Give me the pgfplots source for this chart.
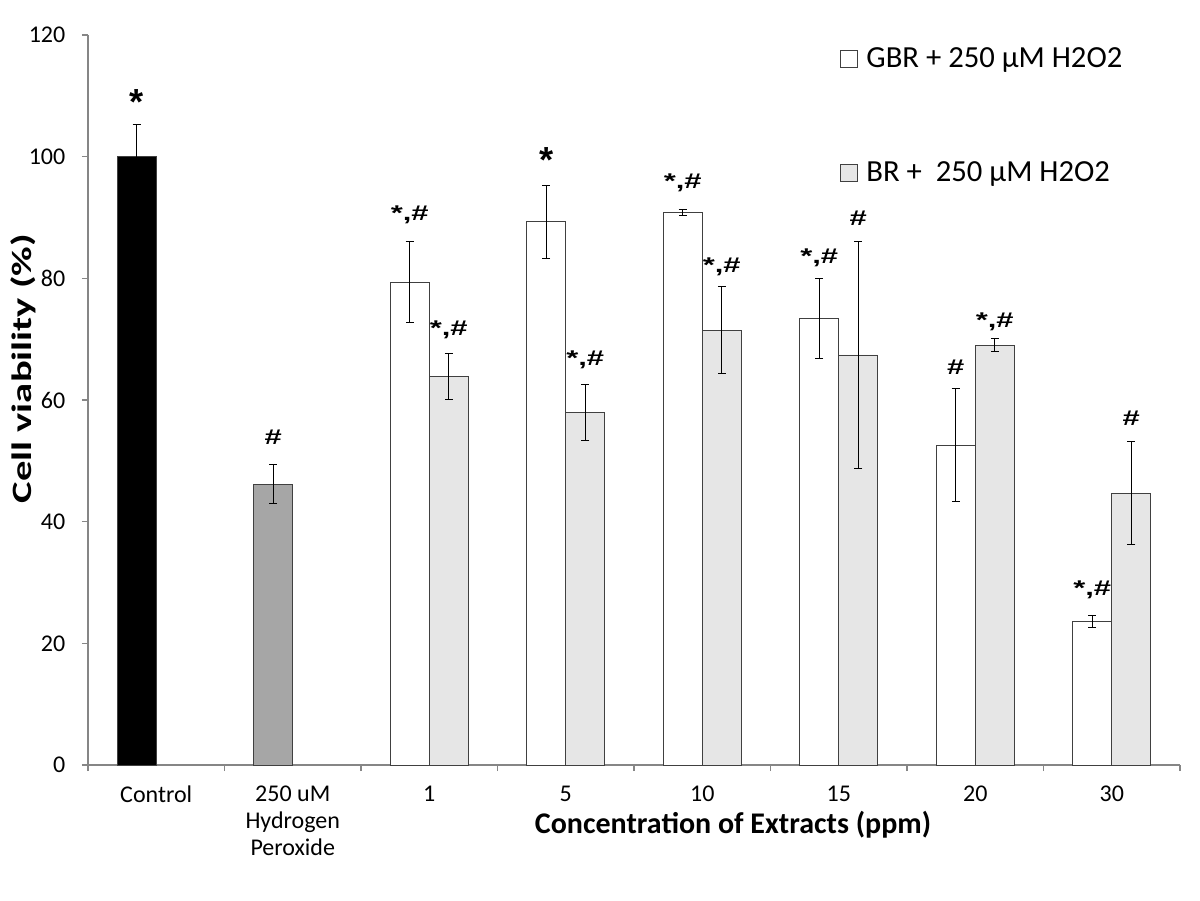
\documentclass[border=0pt]{standalone}
\usepackage{fontspec}
\setmainfont{Carlito}
\newfontfamily\arial{Liberation Sans}
\usepackage{graphicx}
\usepackage{pgfplots}
\pgfplotsset{compat=1.18}
\definecolor{axgray}{HTML}{868686}
\definecolor{edge}{HTML}{404040}
\definecolor{hgray}{HTML}{A6A6A6}
\definecolor{brfill}{HTML}{E6E6E6}
\newcommand{\SH}{\scalebox{1.45}[1]{*,\#}}
\newcommand{\HS}{\scalebox{1.45}[1]{\#}}
\newcommand{\ST}{\scalebox{1.7}{*}}
\pgfplotsset{sq/.style={legend image code/.code={\draw[##1] (0pt,-6.4pt) rectangle (12.8pt,6.4pt);}}}
\begin{document}
\begin{tikzpicture}
\begin{axis}[
  at={(0,0)}, anchor=south west,
  scale only axis, width=819pt, height=547.5pt,
  xmin=-0.5, xmax=7.5, ymin=0, ymax=120,
  axis x line=bottom, axis y line=left,
  axis line style={axgray, -, line width=0.8pt},
  ytick={0,20,...,120},
  xtick={0,...,7},
  xticklabels={Control, {250 uM\\Hydrogen\\Peroxide}, 1, 5, 10, 15, 20, 30},
  xticklabel style={align=center, font=\fontsize{18}{20.5}\selectfont, yshift=-7.5pt},
  yticklabel style={font=\fontsize{18}{20.5}\selectfont, xshift=-9pt},
  /pgf/number format/assume math mode=true,
  major x tick style={draw=none},
  minor xtick={-0.5,0.5,...,7.5},
  minor x tick style={axgray, line width=0.8pt},
  major y tick style={axgray, line width=0.8pt},
  major tick length=4.5pt, minor tick length=4.5pt,
  tick align=outside,
  xtick pos=bottom, ytick pos=left,
  ylabel={\scalebox{1.45}[1]{Cell viability (\%)}},
  ylabel style={font=\fontsize{21}{24}\selectfont\bfseries, at={(axis description cs:-0.0595,0.543)}, anchor=center},
  xlabel={Concentration of Extracts (ppm)},
  xlabel style={font=\fontsize{22.5}{26}\selectfont\bfseries, at={(axis description cs:0.5907,-0.0822)}, anchor=center},
  legend style={draw=none, fill=none, at={(rel axis cs:0.6843,0.99)}, anchor=north west,
    font=\fontsize{23}{27}\selectfont, row sep=65pt, column sep=5pt},
  legend cell align=left,
  error bars/error bar style={black, line width=0.8pt},
  error bars/error mark options={rotate=90, mark size=3pt, black, line width=0.8pt},
]
\addplot[ybar, bar width=0.2857, bar shift=0pt, fill=black, draw=edge, forget plot,
  error bars/.cd, y dir=both, y explicit]
  coordinates {(-0.1429,100) +- (0,5.3)};
\addplot[ybar, bar width=0.2857, bar shift=0pt, fill=hgray, draw=edge, forget plot,
  error bars/.cd, y dir=both, y explicit]
  coordinates {(0.8571,46.2) +- (0,3.2)};
\addplot[ybar, bar width=0.2857, bar shift=0pt, fill=white, draw=edge, sq,
  error bars/.cd, y dir=both, y explicit]
  coordinates {(1.8571,79.4) +- (0,6.7) (2.8571,89.3) +- (0,6.0) (3.8571,90.8) +- (0,0.5)
               (4.8571,73.4) +- (0,6.6) (5.8571,52.6) +- (0,9.3) (6.8571,23.6) +- (0,1.0)};
\addplot[ybar, bar width=0.2857, bar shift=0pt, fill=brfill, draw=edge, sq,
  error bars/.cd, y dir=both, y explicit]
  coordinates {(2.1429,63.9) +- (0,3.8) (3.1429,58.0) +- (0,4.6) (4.1429,71.5) +- (0,7.2)
               (5.1429,67.4) +- (0,18.7) (6.1429,69.0) +- (0,1.1) (7.1429,44.7) +- (0,8.5)};
\legend{GBR + 250 µM H2O2, BR + \ 250 µM H2O2}
\addplot[draw=none, forget plot, point meta=explicit symbolic, nodes near coords,
  nodes near coords style={anchor=center, font=\arial\bfseries\fontsize{16}{19}\selectfont, text=black}]
  coordinates {(-0.1429,109)[\ST] (0.8571,53.9)[\HS] (1.8571,90.4)[\SH] (2.1429,71.5)[\SH]
    (2.8571,99.5)[\ST] (3.1429,66.6)[\SH] (3.8571,95.7)[\SH] (4.1429,81.9)[\SH]
    (4.8571,83.3)[\SH] (5.1429,89.9)[\HS] (5.8571,65.4)[\HS] (6.1429,72.8)[\SH]
    (6.8571,28.8)[\SH] (7.1429,57.0)[\HS]};
\end{axis}
\pgfresetboundingbox
\path (-66pt,-101.25pt) rectangle (834pt,573.75pt);
\end{tikzpicture}
\end{document}
